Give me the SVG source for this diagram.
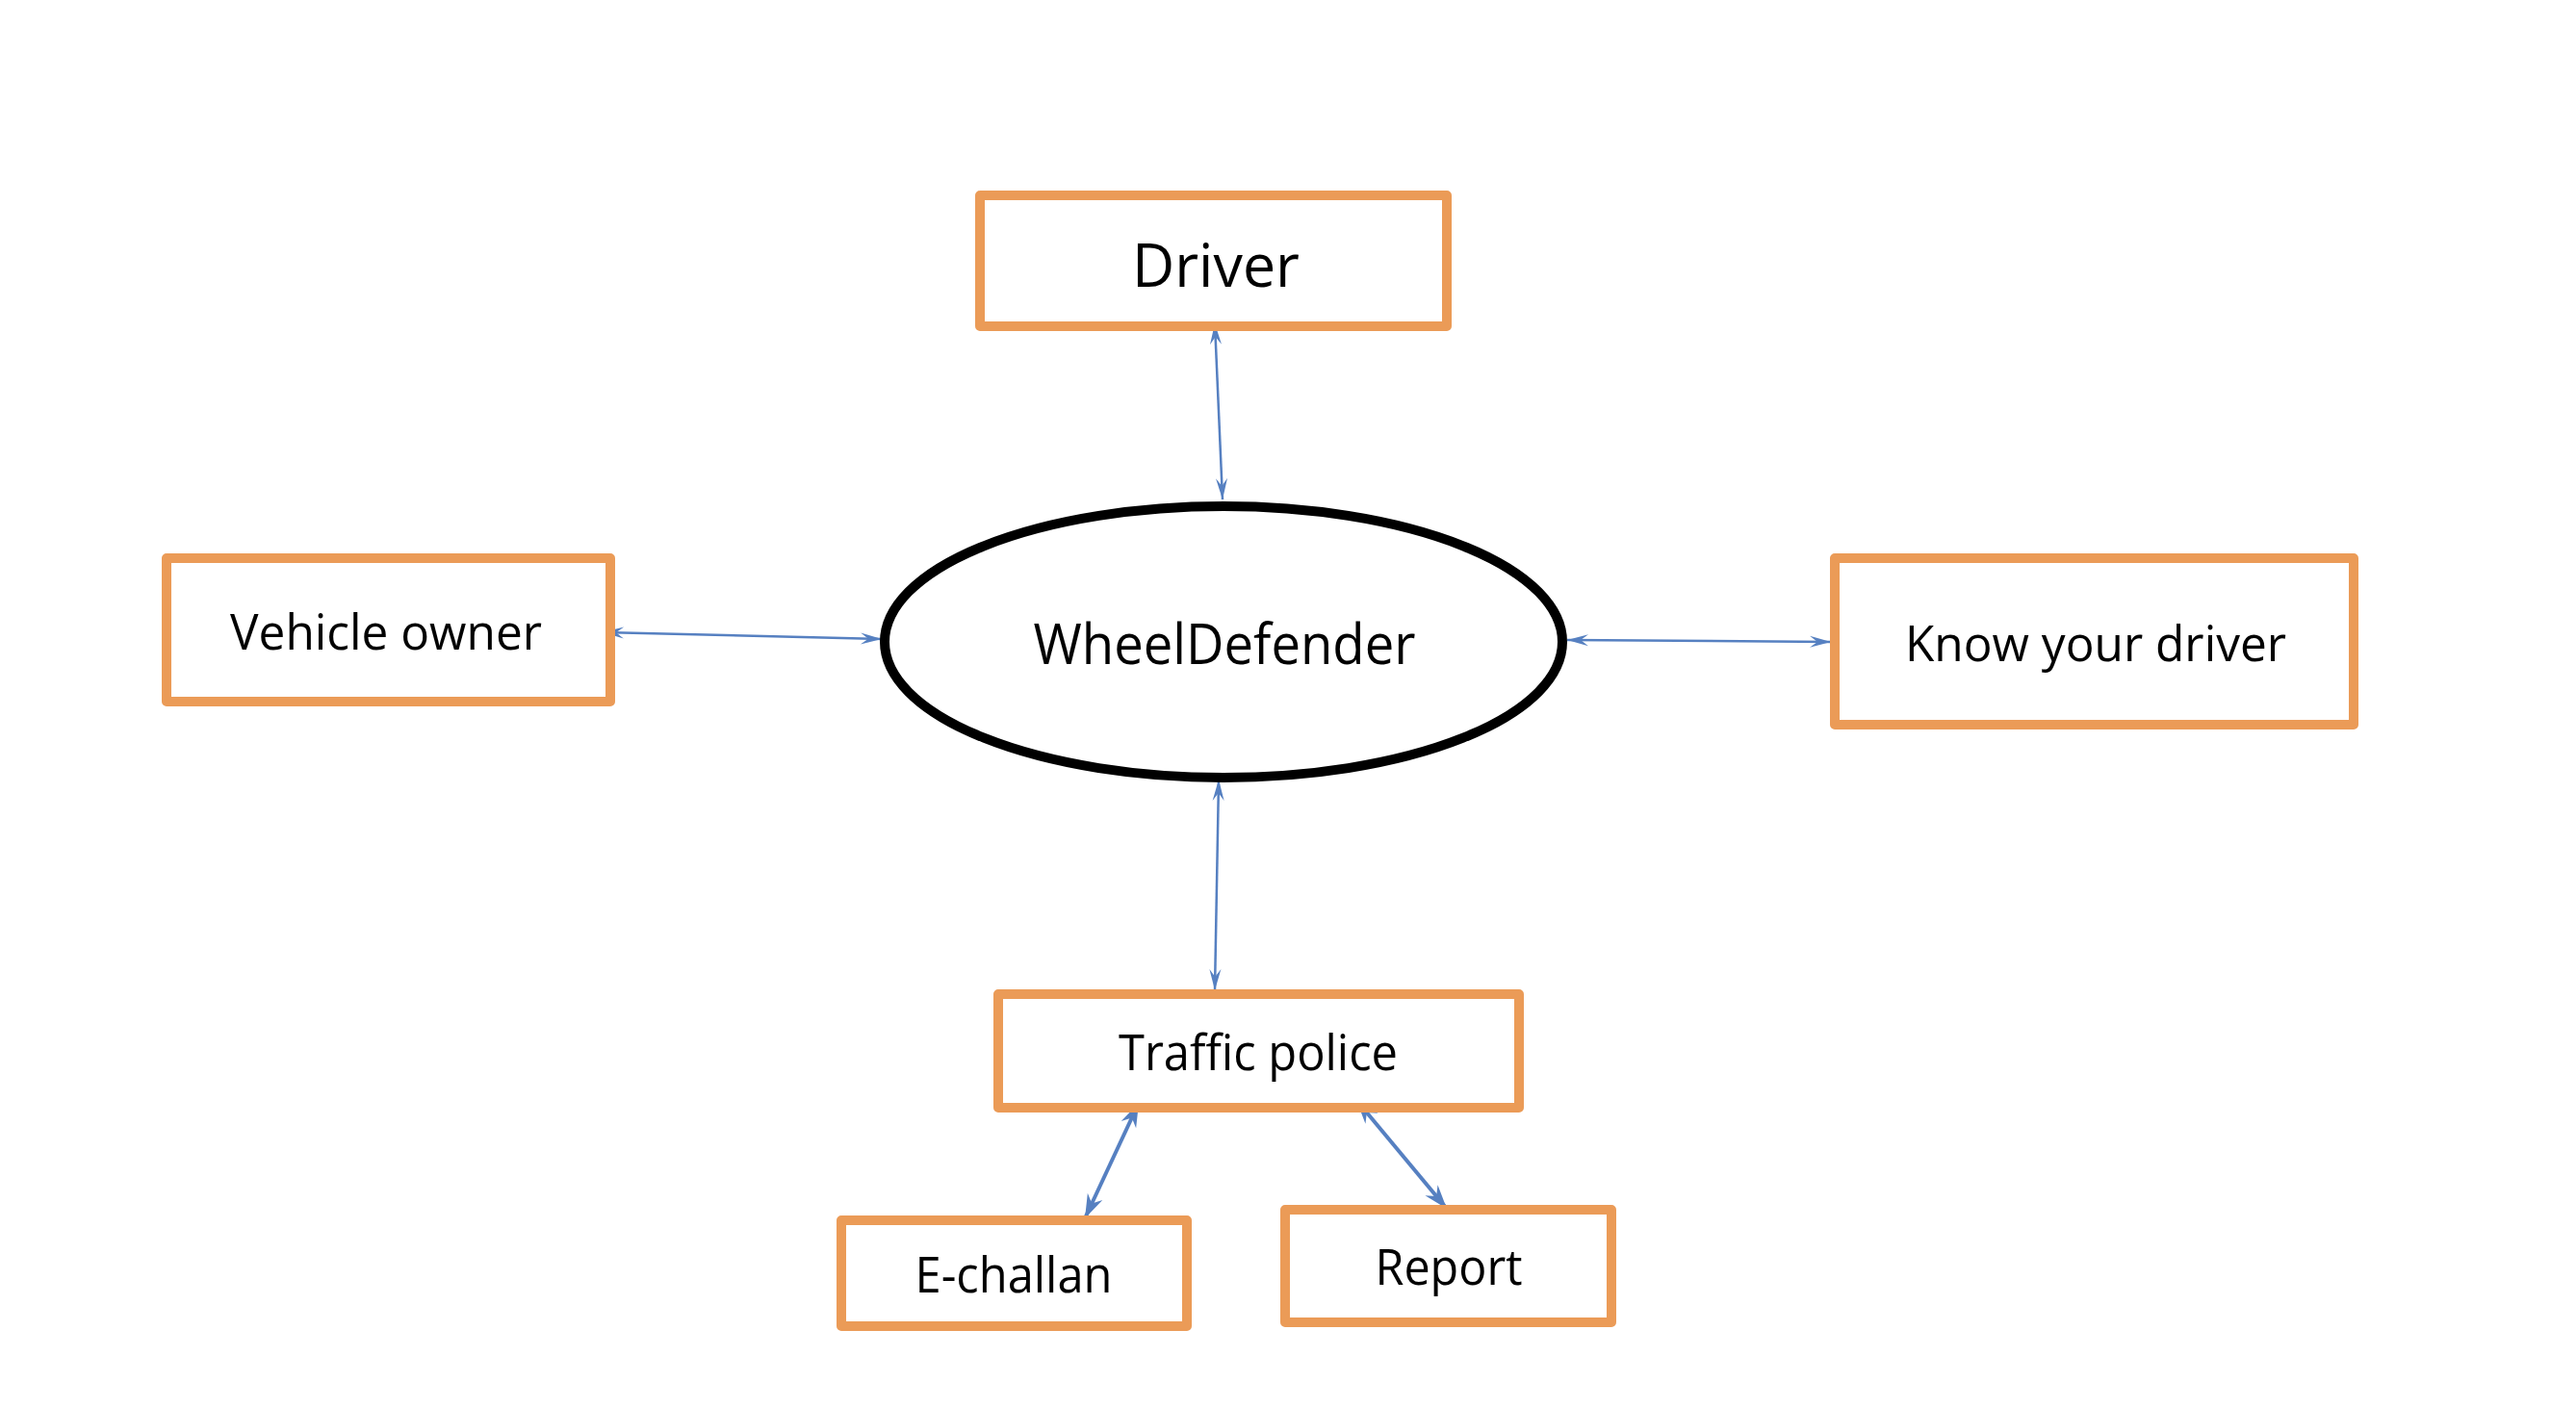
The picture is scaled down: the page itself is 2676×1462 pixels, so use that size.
<svg xmlns="http://www.w3.org/2000/svg" width="2676" height="1462" viewBox="0 0 2676 1462">
<style>
.box{fill:#fff;stroke:#EB9B57;stroke-width:10;stroke-linejoin:round}
.ell{fill:#fff;stroke:#000;stroke-width:10}
.lbl{font-family:"Open Sans","Noto Sans","Liberation Sans",sans-serif;fill:#000;text-anchor:middle}
.thin{stroke:#5680C1;stroke-width:2.5;fill:none}
.thick{stroke:#5680C1;stroke-width:4;fill:none}
</style>
<defs>
<marker id="ah" viewBox="-24 -8 26 16" refX="0" refY="0" markerWidth="26" markerHeight="16" markerUnits="userSpaceOnUse" orient="auto-start-reverse">
<path d="M0,0 L-22,-6 L-14,0 L-22,6 Z" fill="#5680C1"/>
</marker>
<marker id="ahb" viewBox="-28 -10 30 20" refX="0" refY="0" markerWidth="30" markerHeight="20" markerUnits="userSpaceOnUse" orient="auto-start-reverse">
<path d="M0,0 L-25,-8.5 L-17,0 L-25,8.5 Z" fill="#5680C1"/>
</marker>
</defs>
<rect width="2676" height="1462" fill="#fff"/>
<g id="connectors">
<line class="thin" x1="1262" y1="336" x2="1270" y2="519" marker-start="url(#ah)" marker-end="url(#ah)"/>
<line class="thin" x1="626" y1="657" x2="916" y2="664" marker-start="url(#ah)" marker-end="url(#ah)"/>
<line class="thin" x1="1628" y1="665" x2="1902" y2="667" marker-start="url(#ah)" marker-end="url(#ah)"/>
<line class="thin" x1="1266" y1="810" x2="1262" y2="1029" marker-start="url(#ah)" marker-end="url(#ah)"/>
<line class="thick" x1="1183" y1="1146" x2="1127" y2="1266" marker-start="url(#ahb)" marker-end="url(#ahb)"/>
<line class="thick" x1="1409" y1="1143" x2="1503" y2="1256" marker-start="url(#ahb)" marker-end="url(#ahb)"/>
</g>
<g id="driver">
<rect class="box" x="1018" y="203" width="485" height="136"/>
<text class="lbl" x="1263" y="298" font-size="63" textLength="174" lengthAdjust="spacingAndGlyphs">Driver</text>
</g>
<g id="wheeldefender">
<ellipse class="ell" cx="1271" cy="667" rx="352" ry="141"/>
<text class="lbl" x="1272" y="690" font-size="59" textLength="397" lengthAdjust="spacingAndGlyphs">WheelDefender</text>
</g>
<g id="vehicle-owner">
<rect class="box" x="173" y="580" width="461" height="149"/>
<text class="lbl" x="401" y="675" font-size="52" textLength="324" lengthAdjust="spacingAndGlyphs">Vehicle owner</text>
</g>
<g id="know-your-driver">
<rect class="box" x="1906" y="580" width="539" height="173"/>
<text class="lbl" x="2177" y="687" font-size="52" textLength="396" lengthAdjust="spacingAndGlyphs">Know your driver</text>
</g>
<g id="traffic-police">
<rect class="box" x="1037" y="1033" width="541" height="118"/>
<text class="lbl" x="1307" y="1112" font-size="51" textLength="290" lengthAdjust="spacingAndGlyphs">Traffic police</text>
</g>
<g id="e-challan">
<rect class="box" x="874" y="1268" width="359" height="110"/>
<text class="lbl" x="1053" y="1343" font-size="51" textLength="205" lengthAdjust="spacingAndGlyphs">E-challan</text>
</g>
<g id="report">
<rect class="box" x="1335" y="1257" width="339" height="117"/>
<text class="lbl" x="1505" y="1335" font-size="51" textLength="153" lengthAdjust="spacingAndGlyphs">Report</text>
</g>
</svg>
